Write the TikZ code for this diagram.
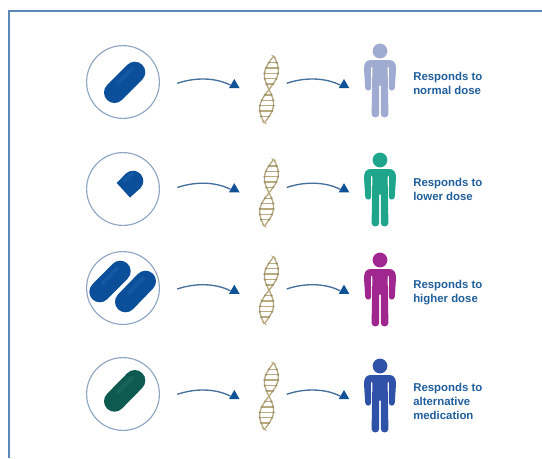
\documentclass[tikz,border=0pt]{standalone}
\usepackage{fontspec}
\setmainfont{Liberation Sans}
\usetikzlibrary{shapes.geometric}
\definecolor{framec}{HTML}{5C88B8}
\definecolor{ringc}{HTML}{8FA6C2}
\definecolor{pillblue}{HTML}{0B4F9B}
\definecolor{pilllight}{HTML}{2E72B4}
\definecolor{pillgreen}{HTML}{0E5A50}
\definecolor{pillgreenl}{HTML}{2F7F70}
\definecolor{linec}{HTML}{45709C}
\definecolor{tipc}{HTML}{0F5296}
\definecolor{dnac}{HTML}{B8A97F}
\definecolor{textc}{HTML}{205F9C}
\definecolor{p1}{HTML}{9FABD0}
\definecolor{p2}{HTML}{1FA58C}
\definecolor{p3}{HTML}{A0278F}
\definecolor{p4}{HTML}{2F52A8}
\tikzset{
  ring/.style={circle,draw=ringc,line width=0.85pt,fill=white,minimum size=54.6pt,inner sep=0pt},
  pillbody/.style={line width=15.75pt,line cap=round},
  pillshine/.style={line width=3pt,line cap=round,opacity=.28},
  conn/.style={draw=linec,line width=1pt},
  tipnode/.style={regular polygon,regular polygon sides=3,fill=tipc,inner sep=0pt,minimum size=9.2pt},
  label/.style={anchor=west,align=left,text=textc,font=\bfseries\fontsize{8.55}{10.5}\selectfont,inner sep=0pt},
  pics/dna/.style={code={
    \draw[dnac,line width=1pt] plot[smooth,domain=0:1,samples=31] ({4.75-9.5*\x+6.8*sin(360*\x)},{67*\x});
    \draw[dnac,line width=1pt] plot[smooth,domain=0:1,samples=31] ({4.75-9.5*\x-6.8*sin(360*\x)},{67*\x});
    \draw[dnac,line width=0.6pt] (2.5,-1) -- (7,2);
    \draw[dnac,line width=0.6pt] (-2.5,68) -- (-7,65);
    \foreach \t in {.1,.18,.26,.34,.42,.58,.66,.74,.82,.9}{
      \pgfmathsetmacro\ax{4.75-9.5*\t}
      \pgfmathsetmacro\dx{6.8*sin(360*\t)}
      \pgfmathsetmacro\yy{67*\t}
      \draw[dnac,line width=1pt] ({\ax-\dx},\yy) -- ({\ax+\dx},\yy);
      \fill[dnac!85!black] ({\ax-\dx},\yy) circle (1.2);
      \fill[dnac!85!black] ({\ax+\dx},\yy) circle (1.2);
    }
  }},
  pics/person/.style={code={
    \fill[#1] (0,0) circle (7.4);
    \fill[#1] (-9,9) -- (9,9)
      .. controls (14,9) and (16,12) .. (16,18)
      -- (14.8,36.5) .. controls (14.6,40.6) and (8.9,40.6) .. (8.8,36.5)
      -- (9.2,17) .. controls (9.2,14.8) and (7.6,14.8) .. (7.6,17)
      -- (8.4,63) .. controls (8.4,67.5) and (0.8,67.5) .. (0.8,63)
      -- (0.8,35) .. controls (0.8,33.8) and (-0.8,33.8) .. (-0.8,35)
      -- (-0.8,63) .. controls (-0.8,67.5) and (-8.4,67.5) .. (-8.4,63)
      -- (-7.6,17) .. controls (-7.6,14.8) and (-9.2,14.8) .. (-9.2,17)
      -- (-8.8,36.5) .. controls (-8.9,40.6) and (-14.6,40.6) .. (-14.8,36.5)
      -- (-16,18) .. controls (-16,12) and (-14,9) .. (-9,9) -- cycle;
  }}
}
\newcommand{\arrowrow}[2]{%
  \node[tipnode] (tipa#1) at (234.3,#2+1.8) {};
  \node[tipnode] (tipb#1) at (344,#2+1.8) {};
  \coordinate (starta#1) at (177.3,#2);
  \coordinate (startb#1) at (286.7,#2);
  \draw[conn] (starta#1) .. controls (195,#2-6) and (215,#2-6) .. (tipa#1.west);
  \draw[conn] (startb#1) .. controls (304,#2-6) and (325,#2-6) .. (tipb#1.west);
}
\begin{document}
\begin{tikzpicture}[x=0.75pt,y=-0.75pt]
\useasboundingbox (0,0) rectangle (542,458);
\fill[white] (0,0) rectangle (542,458);
% frame
\draw[framec,line width=1.6pt] (9,458) -- (9,11) -- (542,11);
% rings
\node[ring] (ring1) at (123,82) {};
\node[ring] (ring2) at (123,189) {};
\node[ring] (ring3) at (123,288) {};
\node[ring] (ring4) at (123,394) {};
% pills
\draw[pillbody,pillblue] (114.5,92.5) -- (134.8,72.2);
\draw[pillshine,pilllight] (118,83) -- (132,69);
\fill[pillblue] (116.7,183) -- (125.7,173.7)
  .. controls (129.7,169.7) and (136.3,169.7) .. (140.3,173.7)
  .. controls (144.3,177.7) and (144.3,184.3) .. (140.3,188.3)
  -- (130,197.5) -- cycle;
\draw[pillshine,pilllight] (125,180) -- (132,174);
\draw[pillbody,pillblue] (99.8,291.8) -- (120.2,271.2);
\draw[pillshine,pilllight] (103,283) -- (117,268.5);
\draw[pillbody,pillblue] (125.5,301.8) -- (145.5,281.2);
\draw[pillshine,pilllight] (129,293) -- (143,278.5);
\draw[pillbody,pillgreen] (114.5,401.2) -- (134.8,380.5);
\draw[pillshine,pillgreenl] (118,392) -- (132,378);
% arrows
\arrowrow{1}{83.3}
\arrowrow{2}{187.5}
\arrowrow{3}{289}
\arrowrow{4}{394.3}
% DNA
\pic at (269,56) {dna};
\pic at (269,159.3) {dna};
\pic at (269,256.7) {dna};
\pic at (269,362.7) {dna};
% people
\pic at (380,51) {person=p1};
\pic at (380,160) {person=p2};
\pic at (380,260) {person=p3};
\pic at (380,366) {person=p4};
% labels
\node[label] (text1) at (413,83.7) {Responds to\\normal dose};
\node[label] (text2) at (413,189.7) {Responds to\\lower dose};
\node[label] (text3) at (413,293) {Responds to\\higher dose};
\node[label] (text4) at (413,401.3) {Responds to\\alternative\\medication};
\end{tikzpicture}
\end{document}
